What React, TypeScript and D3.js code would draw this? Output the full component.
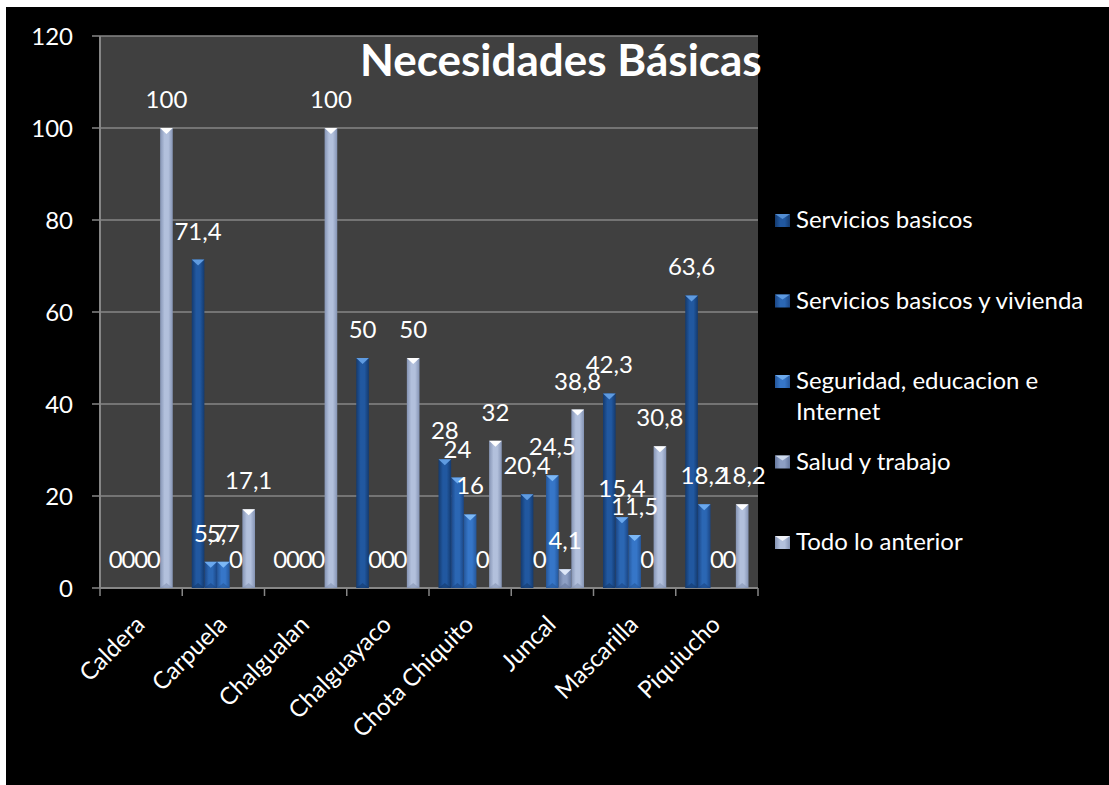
import React from 'react';
import * as d3 from 'd3';

const categories = ['Caldera', 'Carpuela', 'Chalgualan', 'Chalguayaco', 'Chota Chiquito', 'Juncal', 'Mascarilla', 'Piquiucho'];
const seriesNames = ['Servicios basicos', 'Servicios basicos y vivienda', 'Seguridad, educacion e Internet', 'Salud y trabajo', 'Todo lo anterior'];
const legendLines = [['Servicios basicos'], ['Servicios basicos y vivienda'], ['Seguridad, educacion e', 'Internet'], ['Salud y trabajo'], ['Todo lo anterior']];
const serviciosBasicos = [0, 71.4, 0, 50, 28, 20.4, 42.3, 63.6];
const serviciosVivienda = [0, 5.7, 0, 0, 24, 0, 15.4, 18.2];
const seguridadEducacion = [0, 5.7, 0, 0, 16, 24.5, 11.5, 0];
const saludTrabajo = [0, 0, 0, 0, 0, 4.1, 0, 0];
const todoAnterior = [100, 17.1, 100, 50, 32, 38.8, 30.8, 18.2];
const seriesValues = [serviciosBasicos, serviciosVivienda, seguridadEducacion, saludTrabajo, todoAnterior];
const yTicks = [0, 20, 40, 60, 80, 100, 120];
const title = 'Necesidades Básicas';

const W = 1109, H = 785;
const plot = { left: 100, right: 758, top: 36, bottom: 588 };
const FONT = 'Lato, Calibri, Carlito, sans-serif';

const palette = [
  { base: '#2158a0', edge: '#143a6e', cap: '#5f9be0' },
  { base: '#2b67b4', edge: '#1b4685', cap: '#6aa8ee' },
  { base: '#3676c8', edge: '#24569a', cap: '#7cb8f6' },
  { base: '#8d9fc4', edge: '#66789e', cap: '#dfe8f8' },
  { base: '#b2c0dc', edge: '#8594b4', cap: '#ffffff' },
];

export default function App() {
  const x = d3.scaleBand<string>().domain(categories).range([plot.left, plot.right]).paddingInner(0).paddingOuter(0);
  const xs = d3.scaleBand<string>().domain(seriesNames).range([0, x.bandwidth()]).paddingInner(0).paddingOuter(0.75);
  const y = d3.scaleLinear().domain([0, 120]).range([plot.bottom, plot.top]);
  const bw = xs.bandwidth();
  const fmt = (v: number) => String(v).replace('.', ',');
  const boundaries = d3.range(categories.length + 1).map((i) => plot.left + i * x.step());

  return (
    <svg width={W} height={H} style={{ position: 'absolute', left: 0, top: 0 }} fontFamily={FONT}>
      <defs>
        {palette.map((p, i) => (
          <linearGradient key={i} id={`g${i}`} x1="0" x2="1" y1="0" y2="0">
            <stop offset="0%" stopColor={p.edge} />
            <stop offset="35%" stopColor={p.base} />
            <stop offset="65%" stopColor={p.base} />
            <stop offset="100%" stopColor={p.edge} />
          </linearGradient>
        ))}
      </defs>
      <rect x={0} y={0} width={W} height={H} fill="#ffffff" />
      <rect x={6} y={7} width={W - 6} height={H - 7} fill="#000000" />
      <rect x={plot.left} y={plot.top} width={plot.right - plot.left} height={plot.bottom - plot.top} fill="#404040" />
      {yTicks.map((t) => (
        <g key={t}>
          <line x1={plot.left - 8} x2={plot.right} y1={y(t)} y2={y(t)} stroke="#868686" strokeWidth={1.5} />
          <text x={73} y={y(t)} dy="0.36em" textAnchor="end" fill="#ffffff" fontSize={24}>{t}</text>
        </g>
      ))}
      <line x1={plot.left} x2={plot.left} y1={plot.top} y2={plot.bottom} stroke="#868686" strokeWidth={2} />
      <line x1={plot.left} x2={plot.right} y1={plot.bottom} y2={plot.bottom} stroke="#868686" strokeWidth={2} />
      {boundaries.map((b, i) => (
        <line key={i} x1={b} x2={b} y1={plot.bottom} y2={plot.bottom + 8} stroke="#868686" strokeWidth={1.5} />
      ))}
      {categories.map((c, ci) => (
        <g key={c}>
          {seriesNames.map((s, si) => {
            const v = seriesValues[si][ci];
            const bx = (x(c) as number) + (xs(s) as number);
            const by = y(v);
            const h = plot.bottom - by;
            const p = palette[si];
            return (
              <g key={s}>
                {v > 0 && (
                  <g>
                    <rect x={bx} y={by} width={bw} height={h} fill={`url(#g${si})`} />
                    <path d={`M${bx},${by}L${bx + bw},${by}L${bx + bw / 2},${by + Math.min(6, h)}Z`} fill={p.cap} />
                    <path d={`M${bx},${plot.bottom}L${bx + bw},${plot.bottom}L${bx + bw / 2},${plot.bottom - Math.min(5, h)}Z`} fill={p.edge} opacity={0.6} />
                  </g>
                )}
              </g>
            );
          })}
        </g>
      ))}
      {categories.map((c, ci) => (
        <g key={`l${c}`}>
          {seriesNames.map((s, si) => {
            const v = seriesValues[si][ci];
            const cx = (x(c) as number) + (xs(s) as number) + bw / 2;
            return (
              <text key={s} x={cx} y={y(v) - 20} textAnchor="middle" fill="#ffffff" fontSize={24}>{fmt(v)}</text>
            );
          })}
        </g>
      ))}
      {categories.map((c) => {
        const cx = (x(c) as number) + x.bandwidth() / 2;
        return (
          <text key={`x${c}`} transform={`translate(${cx + 5},${626}) rotate(-45)`} textAnchor="end" fill="#ffffff" fontSize={24}>{c}</text>
        );
      })}
      <text x={360} y={76} fill="#ffffff" fontSize={44} fontWeight="bold">{title}</text>
      {legendLines.map((lines, i) => {
        const base = 228 + i * 80.5;
        const p = palette[i];
        return (
          <g key={i}>
            <rect x={775} y={base - 14} width={15} height={13} fill={`url(#g${i})`} />
            <path d={`M775,${base - 14}L790,${base - 14}L782.5,${base - 9}Z`} fill={p.cap} opacity={0.8} />
            {lines.map((ln, li) => (
              <text key={li} x={796} y={base + li * 31} fill="#ffffff" fontSize={24}>{ln}</text>
            ))}
          </g>
        );
      })}
    </svg>
  );
}
